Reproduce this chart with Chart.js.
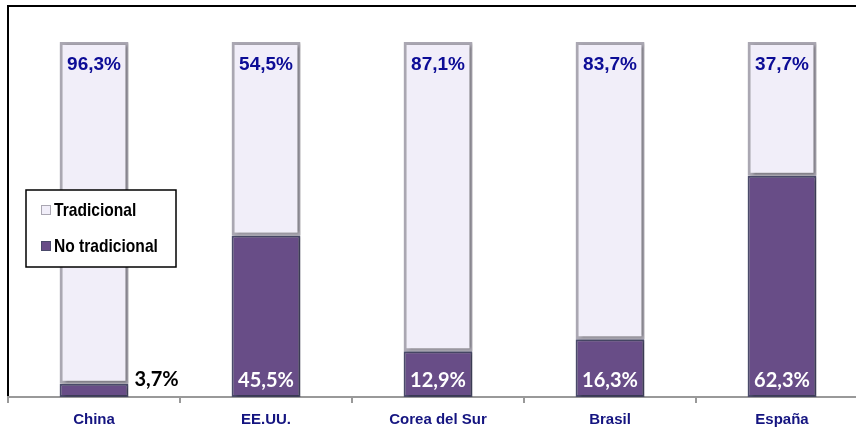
<!DOCTYPE html>
<html>
<head>
<meta charset="utf-8">
<script src="https://cdn.jsdelivr.net/npm/chart.js@4.4.1/dist/chart.umd.min.js"></script>
<style>
    body { margin: 0; background: #fff; overflow: hidden; }
    #wrap { position: relative; width: 856px; height: 433px; overflow: hidden; }
    #canvas { position: absolute; left: 0; top: 0; }
</style>
</head>
<body>
<div id="wrap"><canvas id="canvas" width="872" height="433"></canvas></div>
<script>
    var paises = ['China', 'EE.UU.', 'Corea del Sur', 'Brasil', 'España'];
    var noTradicional = [3.7, 45.5, 12.9, 16.3, 62.3];
    var tradicional = [96.3, 54.5, 87.1, 83.7, 37.7];

    function fmt(v) {
        return v.toFixed(1).replace('.', ',') + '%';
    }

    // etiquetas de valor, caja y leyenda dibujadas a mano
    var extras = {
        id: 'extras',
        beforeDraw: function (chart) {
            var ctx = chart.ctx;
            var area = chart.chartArea;
            ctx.save();
            ctx.strokeStyle = '#000';
            ctx.lineWidth = 2;
            ctx.beginPath();
            ctx.moveTo(8, area.bottom);
            ctx.lineTo(8, 6);
            ctx.lineTo(chart.width, 6);
            ctx.stroke();
            ctx.restore();
        },
        beforeDatasetsDraw: function (chart) {
            // sombra suave para imitar el relieve de las barras
            var ctx = chart.ctx;
            ctx.save();
            ctx.shadowColor = 'rgba(0,0,0,0.4)';
            ctx.shadowBlur = 3;
            ctx.shadowOffsetX = 2;
            ctx.shadowOffsetY = 1;
        },
        afterDatasetsDraw: function (chart) {
            var ctx = chart.ctx;
            ctx.restore();
            ctx.save();
            ctx.textAlign = 'center';
            ctx.textBaseline = 'middle';

            var metaNo = chart.getDatasetMeta(0);
            metaNo.data.forEach(function (bar, i) {
                var v = chart.data.datasets[0].data[i];
                ctx.font = 'bold 20px Lato, "Open Sans", sans-serif';
                if (v < 5) {
                    ctx.fillStyle = '#000';
                    ctx.textAlign = 'left';
                    ctx.fillText(fmt(v), bar.x + bar.width / 2 + 6, 380);
                    ctx.textAlign = 'center';
                } else {
                    ctx.fillStyle = '#fff';
                    ctx.fillText(fmt(v), bar.x, 381);
                }
            });

            var metaTr = chart.getDatasetMeta(1);
            metaTr.data.forEach(function (bar, i) {
                var v = chart.data.datasets[1].data[i];
                ctx.font = 'bold 19px "Liberation Sans", Arial, sans-serif';
                ctx.fillStyle = '#0c0c96';
                ctx.fillText(fmt(v), bar.x, 65);
            });

            // leyenda
            ctx.fillStyle = '#fff';
            ctx.fillRect(26, 190, 150, 77);
            ctx.strokeStyle = '#000';
            ctx.lineWidth = 1.5;
            ctx.strokeRect(26, 190, 150, 77);

            var items = [
                { ds: chart.data.datasets[1], y: 210 },
                { ds: chart.data.datasets[0], y: 246 }
            ];
            ctx.textAlign = 'left';
            items.forEach(function (it) {
                ctx.fillStyle = it.ds.backgroundColor;
                ctx.fillRect(41, it.y - 5, 10, 10);
                ctx.strokeStyle = it.ds.borderColor;
                ctx.lineWidth = 1;
                ctx.strokeRect(41.5, it.y - 4.5, 9, 9);
                ctx.fillStyle = '#000';
                ctx.font = 'bold 19px "Liberation Sans", Arial, sans-serif';
                ctx.save();
                ctx.translate(54, it.y + 1);
                ctx.scale(0.82, 1);
                ctx.fillText(it.ds.label, 0, 0);
                ctx.restore();
            });
            ctx.restore();
        }
    };

    var ctx = document.getElementById('canvas').getContext('2d');
    window.myChart = new Chart(ctx, {
        type: 'bar',
        data: {
            labels: paises,
            datasets: [{
                label: 'No tradicional',
                data: noTradicional,
                backgroundColor: '#684d87',
                borderColor: '#4a4a6a',
                borderWidth: 2,
                borderSkipped: false
            },
            {
                label: 'Tradicional',
                data: tradicional,
                backgroundColor: '#f1eef9',
                borderColor: '#aaa7b2',
                borderWidth: 3,
                borderSkipped: false
            }]
        },
        options: {
            responsive: false,
            animation: false,
            layout: { padding: { left: 8, right: 4, top: 42, bottom: 0 } },
            plugins: {
                legend: { display: false },
                tooltip: { enabled: false }
            },
            datasets: {
                bar: { categoryPercentage: 1, barPercentage: 0.4 }
            },
            scales: {
                x: {
                    stacked: true,
                    afterFit: function (scale) { scale.height = 36; },
                    border: { display: true, color: '#999', width: 2 },
                    grid: {
                        offset: true,
                        drawOnChartArea: false,
                        drawTicks: true,
                        tickLength: 6,
                        color: '#999',
                        lineWidth: 2
                    },
                    ticks: {
                        padding: 8,
                        color: '#141480',
                        font: { family: '"Liberation Sans", Arial, sans-serif', size: 15, weight: 'bold' }
                    }
                },
                y: {
                    stacked: true,
                    display: false,
                    min: 0,
                    max: 100
                }
            }
        },
        plugins: [extras]
    });
</script>
</body>
</html>
